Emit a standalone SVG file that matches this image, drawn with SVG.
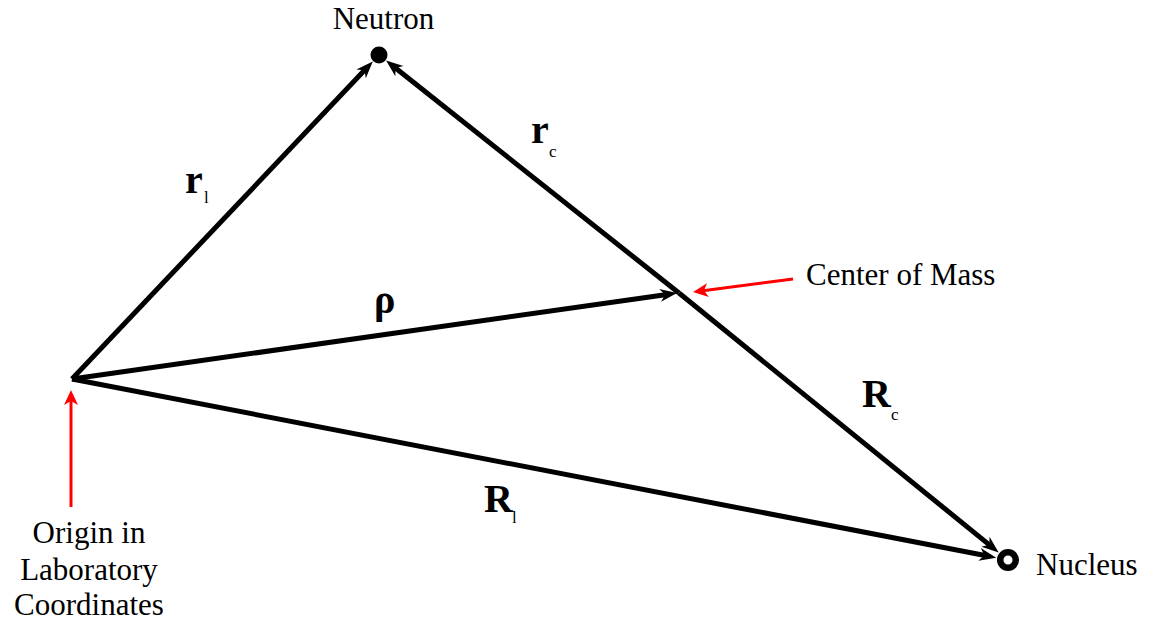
<svg xmlns="http://www.w3.org/2000/svg" width="1155" height="624" viewBox="0 0 1155 624">
<style>
.lbl{font-family:"Liberation Serif","Times New Roman",serif;font-size:31px;fill:#000}
.vec{font-family:"Liberation Serif","Times New Roman",serif;font-size:40px;font-weight:bold;fill:#000}
.sub{font-family:"Liberation Serif","Times New Roman",serif;font-size:17px;fill:#000}
.edge{stroke:#000;stroke-width:5;fill:none;marker-end:url(#ah)}
.red{stroke:#ff0000;stroke-width:3;fill:none;marker-end:url(#rh)}
</style>
<defs>
<marker id="ah" viewBox="-20 -10 24 20" refX="-10" refY="0" markerWidth="24" markerHeight="20" markerUnits="userSpaceOnUse" orient="auto">
<path d="M0,0 L-17,-6.5 L-12,0 L-17,6.5 Z" fill="#000"/>
</marker>
<marker id="rh" viewBox="-20 -10 24 20" refX="-8" refY="0" markerWidth="24" markerHeight="20" markerUnits="userSpaceOnUse" orient="auto">
<path d="M0,0 L-15,-7 L-11,0 L-15,7 Z" fill="#ff0000"/>
</marker>
</defs>
<g id="connectors">
<line id="r1" class="edge" x1="72" y1="379" x2="365.9" y2="68.8"/>
<line id="rc" class="edge" x1="679" y1="293" x2="393.9" y2="66.8"/>
<line id="Rc" class="edge" x1="679" y1="293" x2="990.9" y2="546.1"/>
<line id="R1" class="edge" x1="72" y1="379" x2="986.4" y2="555.8"/>
<line id="rho" class="edge" x1="72" y1="379" x2="667.1" y2="294.4"/>
<line id="origin-pointer" class="red" x1="71" y1="507" x2="71" y2="398"/>
<line id="cm-pointer" class="red" x1="793" y1="279" x2="701" y2="291"/>
</g>
<g id="neutron">
<circle cx="379" cy="55" r="8.5" fill="#000"/>
<text class="lbl" x="383.5" y="29" text-anchor="middle">Neutron</text>
</g>
<g id="nucleus">
<circle cx="1008" cy="560" r="7.8" fill="none" stroke="#000" stroke-width="6.5"/>
<text class="lbl" x="1036" y="575">Nucleus</text>
</g>
<g id="origin">
<text class="lbl" text-anchor="middle"><tspan x="89" y="543">Origin in</tspan><tspan x="89" y="580">Laboratory</tspan><tspan x="89" y="615">Coordinates</tspan></text>
</g>
<g id="center-of-mass">
<text class="lbl" x="806" y="285">Center of Mass</text>
</g>
<g id="labels">
<text class="vec" x="185" y="193">r</text><text class="sub" x="204" y="203">l</text>
<text class="vec" x="531" y="143">r</text><text class="sub" x="549" y="157">c</text>
<text class="vec" x="374" y="313">ρ</text>
<text class="vec" x="862" y="407">R</text><text class="sub" x="891" y="420">c</text>
<text class="vec" x="484" y="512">R</text><text class="sub" x="512" y="523">l</text>
</g>
</svg>
